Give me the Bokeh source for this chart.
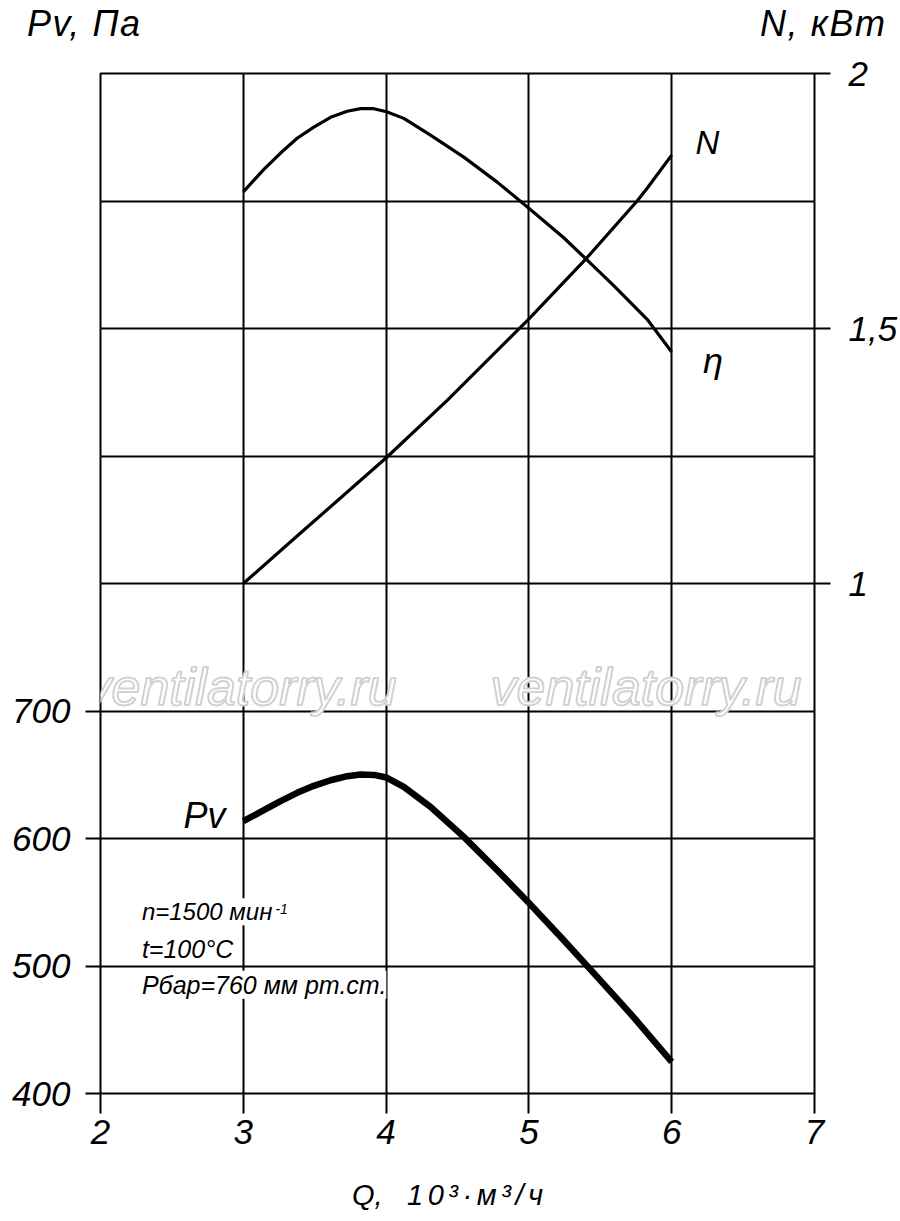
from bokeh.plotting import figure
from bokeh.models import Range1d, LinearAxis, FixedTicker, Label, Grid, Div
from bokeh.layouts import column
from bokeh.embed import file_html
from bokeh.resources import INLINE

# ---- data ----
q_pv = [3.0, 3.144, 3.261, 3.377, 3.494, 3.611, 3.728, 3.821, 3.914, 4.003, 4.124, 4.311,
        4.544, 4.778, 5.004, 5.244, 5.478, 5.711, 6.0]
pv = [613.6, 622.2, 629.3, 635.8, 641.3, 645.7, 648.9, 650.2, 649.9, 647.8, 640.5, 624.8,
      601.3, 575.1, 549.0, 520.2, 491.5, 462.7, 424.8]

q_n = [3.0, 3.377, 4.003, 4.428, 5.004, 5.401, 5.758, 5.828, 6.0]
n_kw = [1.0, 1.093, 1.247, 1.359, 1.520, 1.637, 1.750, 1.775, 1.840]

# efficiency curve has no scale of its own; values in the chart's N-axis units
q_eta = [3.0, 3.144, 3.261, 3.377, 3.494, 3.611, 3.728, 3.821, 3.914, 4.003, 4.124, 4.311,
         4.544, 4.778, 5.004, 5.244, 5.401, 5.594, 5.828, 6.0]
eta = [1.768, 1.812, 1.844, 1.873, 1.895, 1.914, 1.926, 1.931, 1.931, 1.925, 1.912, 1.879,
       1.836, 1.787, 1.735, 1.678, 1.636, 1.584, 1.518, 1.454]

x_ticks = [2, 3, 4, 5, 6, 7]
pv_ticks = [400, 500, 600, 700]
pv_grid = [400, 500, 600, 700, 800, 900, 1000, 1100, 1200]
n_ticks = [1, 1.5, 2]
n_tick_labels = {1: "1", 1.5: "1,5", 2: "2"}

left_title = "Pv, Па"
right_title = "N, кВт"
x_title_name = "Q,"
x_title_unit = "10³·м³/ч"

SANS = "Liberation Sans"
W = 900
H = 1221
TOP_H = 45
BOT_H = 50


def svg_strip(height, items):
    parts = [f'<svg xmlns="http://www.w3.org/2000/svg" width="{W}" height="{height}" '
             f'style="display:block">']
    for x, y, length, size, txt in items:
        fit = f'textLength="{length}" lengthAdjust="spacing" ' if length else ""
        parts.append(f'<text x="{x}" y="{y}" {fit}'
                     f'font-family="{SANS}" font-style="italic" font-size="{size}" '
                     f'fill="black">{txt}</text>')
    parts.append('</svg>')
    return "".join(parts)


# ---- strip above the chart holding the two axis titles ----
top = Div(text=svg_strip(TOP_H, [(27, 36, 113, 36, left_title),
                                 (760, 36, 125, 36, right_title)]),
          width=W, height=TOP_H, margin=0)

# ---- strip below the chart holding the Q axis title ----
bottom = Div(text=svg_strip(BOT_H, [(352, 34, None, 29, x_title_name),
                                    (407, 34, 136, 29, x_title_unit)]),
             width=W, height=BOT_H, margin=0)

# ---- main chart ----
p = figure(width=W, height=H - TOP_H - BOT_H, output_backend="svg", toolbar_location=None,
           x_range=Range1d(2, 7), y_range=Range1d(400, 1200),
           x_axis_location=None, y_axis_location=None,
           min_border_left=100, min_border_right=86, min_border_top=73 - TOP_H,
           min_border_bottom=H - BOT_H - 1093)
p.extra_y_ranges = {"N": Range1d(0, 2)}
p.outline_line_color = "black"
p.outline_line_width = 2
p.background_fill_color = "white"
p.border_fill_color = "white"

p.add_layout(Grid(dimension=0, ticker=FixedTicker(ticks=x_ticks),
                  grid_line_color="black", grid_line_width=2))
p.add_layout(Grid(dimension=1, ticker=FixedTicker(ticks=pv_grid),
                  grid_line_color="black", grid_line_width=2))


def style_axis(ax, tick_out, standoff):
    ax.axis_line_color = None
    ax.major_tick_in = 0
    ax.major_tick_out = tick_out
    ax.major_tick_line_color = "black"
    ax.major_tick_line_width = 2
    ax.minor_tick_line_color = None
    ax.major_label_text_font = SANS
    ax.major_label_text_font_style = "italic"
    ax.major_label_text_font_size = "35px"
    ax.major_label_text_color = "black"
    ax.major_label_standoff = standoff


xaxis = LinearAxis(ticker=FixedTicker(ticks=x_ticks))
style_axis(xaxis, 20, 6)
p.add_layout(xaxis, "below")

laxis = LinearAxis(ticker=FixedTicker(ticks=pv_ticks))
style_axis(laxis, 15, 15)
p.add_layout(laxis, "left")

raxis = LinearAxis(y_range_name="N", ticker=FixedTicker(ticks=n_ticks),
                   major_label_overrides=n_tick_labels)
style_axis(raxis, 16, 18)
p.add_layout(raxis, "right")

# curves
p.line(q_eta, eta, y_range_name="N", line_color="black", line_width=3.2, line_join="round")
p.line(q_n, n_kw, y_range_name="N", line_color="black", line_width=3.2, line_join="round")
p.line(q_pv, pv, line_color="black", line_width=6.5, line_join="round")

# watermark
for wx in [1.895, 4.731]:
    p.add_layout(Label(x=wx, y=718.8, text="ventilatorry.ru", text_font=SANS,
                       text_font_style="italic", text_font_size="52px",
                       text_color="white", text_outline_color="#d2d2d2",
                       text_baseline="middle"))


def lab(x, y, text, size, align="left", rng="default", bg=None):
    kw = dict(x=x, y=y, text=text, text_font=SANS, text_font_style="italic",
              text_font_size=size, text_color="black", text_align=align,
              text_baseline="middle")
    if rng != "default":
        kw["y_range_name"] = rng
    if bg:
        kw["background_fill_color"] = bg
    p.add_layout(Label(**kw))


# curve labels
lab(6.167, 1.864, "N", "33px", rng="N")
lab(6.22, 1.437, "η", "36px", rng="N")
lab(2.875, 618.0, "Pv", "36px", align="right")

# operating conditions
lab(2.29, 542.5, "n=1500 мин", "24px", bg="white")
lab(2.29, 513.5, "t=100°C", "25px", bg="white")
lab(2.29, 485.3, "Рбар=760 мм рт.ст.", "25px", bg="white")
lab(3.225, 544.6, "-1", "14px")

layout = column(top, p, bottom, spacing=0)
open("out.html", "w").write(file_html(layout, INLINE))
